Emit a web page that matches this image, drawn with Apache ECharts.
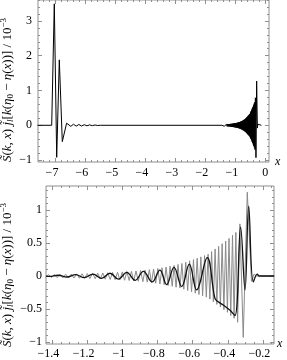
<!DOCTYPE html>
<html><head><meta charset="utf-8">
<script src="https://cdn.jsdelivr.net/npm/echarts@6.0.0/dist/echarts.min.js"></script>
<style>html,body{margin:0;padding:0;background:#fff}#c{width:287px;height:360px}</style>
</head><body><div id="c"></div>
<script>
// ---- data ----
const earlyWave = [[-7.60,0],[-7.127,0],[-7.04,3.49],[-6.96,-0.92],[-6.873,1.88],[-6.773,-0.47],[-6.63,0.06],[-6.573,0.075],[-6.49,-0.03],[-6.40,0.03],[-6.31,-0.025],[-6.22,0.022],[-6.13,-0.02],[-6.04,0.017],[-5.95,-0.015],[-5.86,0.012],[-5.77,-0.01],[-5.68,0.008],[-5.59,-0.006],[-5.50,0],[-1.45,0]];
const fastWave = [[-1.437,-0.021],[-1.420,0.022],[-1.403,-0.023],[-1.386,0.024],[-1.370,-0.025],[-1.354,0.026],[-1.338,-0.027],[-1.322,0.028],[-1.306,-0.029],[-1.290,0.030],[-1.275,-0.031],[-1.259,0.032],[-1.244,-0.033],[-1.229,0.034],[-1.214,-0.035],[-1.199,0.037],[-1.184,-0.038],[-1.169,0.040],[-1.154,-0.041],[-1.140,0.043],[-1.125,-0.044],[-1.111,0.046],[-1.097,-0.048],[-1.083,0.050],[-1.069,-0.052],[-1.055,0.054],[-1.041,-0.056],[-1.027,0.058],[-1.014,-0.060],[-1.000,0.062],[-0.987,-0.064],[-0.974,0.066],[-0.961,-0.068],[-0.948,0.071],[-0.935,-0.074],[-0.922,0.077],[-0.909,-0.080],[-0.896,0.083],[-0.883,-0.086],[-0.871,0.090],[-0.858,-0.093],[-0.846,0.097],[-0.834,-0.100],[-0.822,0.105],[-0.810,-0.110],[-0.798,0.115],[-0.786,-0.120],[-0.774,0.125],[-0.762,-0.130],[-0.751,0.135],[-0.739,-0.145],[-0.728,0.150],[-0.716,-0.155],[-0.705,0.160],[-0.694,-0.170],[-0.683,0.175],[-0.672,-0.180],[-0.661,0.190],[-0.650,-0.200],[-0.639,0.210],[-0.628,-0.220],[-0.617,0.230],[-0.606,-0.240],[-0.595,0.250],[-0.585,-0.260],[-0.574,0.270],[-0.564,-0.280],[-0.553,0.290],[-0.543,-0.300],[-0.532,0.310],[-0.522,-0.320],[-0.512,0.330],[-0.502,-0.350],[-0.492,0.370],[-0.482,-0.390],[-0.472,0.410],[-0.462,-0.430],[-0.452,0.450],[-0.442,-0.470],[-0.432,0.490],[-0.422,-0.510],[-0.412,0.530],[-0.402,-0.550],[-0.393,0.570],[-0.383,-0.600],[-0.373,0.620],[-0.364,-0.640],[-0.354,0.660],[-0.344,-0.700],[-0.331,0.790],[-0.312,-0.930],[-0.289,1.270],[-0.265,-0.080],[-0.250,0.030],[-0.237,0],[-0.130,0]];
const slowWave = [[-1.434,0],[-1.415,-0.006],[-1.365,0.012],[-1.315,-0.015],[-1.265,0.020],[-1.216,-0.025],[-1.167,0.030],[-1.118,-0.036],[-1.070,0.042],[-1.022,-0.048],[-0.975,0.055],[-0.927,-0.065],[-0.880,0.070],[-0.830,-0.090],[-0.786,0.090],[-0.748,-0.130],[-0.706,0.130],[-0.662,-0.160],[-0.619,0.180],[-0.577,-0.210],[-0.517,0.280],[-0.473,-0.340],[-0.454,-0.390],[-0.426,-0.440],[-0.387,-0.520],[-0.359,-0.600],[-0.327,0.740],[-0.302,-0.210],[-0.281,1.060],[-0.255,-0.090],[-0.232,0.030],[-0.220,0],[-0.137,0]];
const topXTicks = [-7,-6,-5,-4,-3,-2,-1,0];
const topYTicks = [-1,0,1,2,3];
const botXTicks = [-1.4,-1.2,-1,-0.8,-0.6,-0.4,-0.2];
const botYTicks = [-1,-0.5,0,0.5,1];
const axisTitle = '{i|S\u0303}{r|(}{i|k}{r|, }{i|x}{r|)}{i| j\u0303}{s|l}{r|[}{i|k}{r|(}{i|η}{z|0}{r| − }{i|η}{r|(}{i|x}{r|))] / 10}{u|−3}';

// ---- styling ----
const FONT = 'Liberation Serif';
const FRAME = '#8f8f8f';
function steps(a, b, s, exclude) {
  const out = []; const n = Math.round((b - a) / s);
  for (let i = 0; i <= n; i++) { const v = Math.round((a + i * s) * 1000) / 1000;
    if (!exclude.some(e => Math.abs(e - v) < 1e-6)) out.push(v); }
  return out;
}
function num(v) { const t = String(Math.round(Math.abs(v) * 100) / 100); return v < 0 ? '−' + t : t; }
const tickMaj = vals => ({show: true, inside: true, length: 4, lineStyle: {color: FRAME, width: 1}, customValues: vals});
const tickMin = vals => ({show: true, inside: true, length: 2, lineStyle: {color: FRAME, width: 1}, customValues: vals});

function xAxes(grid, min, max, majors, minors, nameGap, margin) {
  const base = {type: 'value', gridIndex: grid, min, max, splitLine: {show: false}, axisLine: {show: false, onZero: false}};
  return [
    {...base, position: 'bottom', axisTick: tickMaj(majors),
      axisLabel: {show: true, customValues: majors, margin, hideOverlap: false,
        formatter: v => v < 0 ? '{n|' + num(v) + '}' : '{p|' + num(v) + '}',
        rich: {n: {fontFamily: FONT, fontSize: 12, color: '#000', padding: [0, 7, 0, 0]},
               p: {fontFamily: FONT, fontSize: 12, color: '#000'}}},
      name: 'x', nameLocation: 'end', nameGap,
      nameTextStyle: {fontFamily: FONT, fontStyle: 'italic', fontSize: 12, color: '#000'}},
    {...base, position: 'bottom', axisTick: tickMin(minors), axisLabel: {show: false}},
    {...base, position: 'top', axisTick: tickMaj(majors), axisLabel: {show: false}},
    {...base, position: 'top', axisTick: tickMin(minors), axisLabel: {show: false}}
  ];
}
function yAxes(grid, min, max, majors, minors, margin) {
  const base = {type: 'value', gridIndex: grid, min, max, splitLine: {show: false}, axisLine: {show: false, onZero: false}};
  return [
    {...base, position: 'left', axisTick: tickMaj(majors),
      axisLabel: {show: true, customValues: majors, margin, hideOverlap: false, formatter: v => num(v),
        fontFamily: FONT, fontSize: 12, color: '#000'}},
    {...base, position: 'left', axisTick: tickMin(minors), axisLabel: {show: false}},
    {...base, position: 'right', axisTick: tickMaj(majors), axisLabel: {show: false}},
    {...base, position: 'right', axisTick: tickMin(minors), axisLabel: {show: false}}
  ];
}

const richTitle = {
  i: {fontFamily: FONT, fontStyle: 'italic', fontSize: 13, lineHeight: 16, fill: '#000', color: '#000'},
  r: {fontFamily: FONT, fontSize: 13, lineHeight: 16, fill: '#000', color: '#000'},
  s: {fontFamily: FONT, fontStyle: 'italic', fontSize: 9, lineHeight: 16, verticalAlign: 'bottom', fill: '#000', color: '#000'},
  z: {fontFamily: FONT, fontSize: 9, lineHeight: 16, verticalAlign: 'bottom', fill: '#000', color: '#000'},
  u: {fontFamily: FONT, fontSize: 9, lineHeight: 16, verticalAlign: 'top', fill: '#000', color: '#000'}
};

const chart = echarts.init(document.getElementById('c'), null, {renderer: 'canvas'});
chart.setOption({
  animation: false,
  backgroundColor: '#fff',
  grid: [
    {left: 38, top: 0, width: 231, height: 162, show: true, borderColor: FRAME, borderWidth: 1, backgroundColor: 'transparent'},
    {left: 46, top: 186, width: 228, height: 158, show: true, borderColor: FRAME, borderWidth: 1, backgroundColor: 'transparent'}
  ],
  xAxis: [
    ...xAxes(0, -7.584, 0.123, topXTicks, steps(-7.4, 0, 0.2, topXTicks), 6, 5),
    ...xAxes(1, -1.434, -0.137, botXTicks, steps(-1.4, -0.15, 0.05, botXTicks), 3, 4)
  ],
  yAxis: [
    ...yAxes(0, -1.055, 3.60, topYTicks, steps(-1, 3.6, 0.2, topYTicks), 6),
    ...yAxes(1, -1.03, 1.364, botYTicks, steps(-1, 1.3, 0.1, botYTicks), 4)
  ],
  graphic: [
    {type: 'text', x: 7.5, y: 90, rotation: Math.PI / 2,
      style: {text: axisTitle, rich: richTitle, align: 'center', verticalAlign: 'middle', fontFamily: FONT, fontSize: 13, fill: '#000'}},
    {type: 'text', x: 7.5, y: 275, rotation: Math.PI / 2,
      style: {text: axisTitle, rich: richTitle, align: 'center', verticalAlign: 'middle', fontFamily: FONT, fontSize: 13, fill: '#000'}}
  ],
  series: [
    {type: 'line', xAxisIndex: 0, yAxisIndex: 0, data: earlyWave.concat(fastWave), showSymbol: false, symbol: 'none',
      sampling: undefined, lineStyle: {color: '#000', width: 1}, clip: true},
    {type: 'line', xAxisIndex: 4, yAxisIndex: 4, data: fastWave, showSymbol: false, symbol: 'none',
      lineStyle: {color: '#8a8a8a', width: 1}, clip: true},
    {type: 'line', xAxisIndex: 4, yAxisIndex: 4, data: slowWave, showSymbol: false, symbol: 'none', smooth: 0.4,
      lineStyle: {color: '#111', width: 1.3}, clip: true}
  ]
});
</script></body></html>
